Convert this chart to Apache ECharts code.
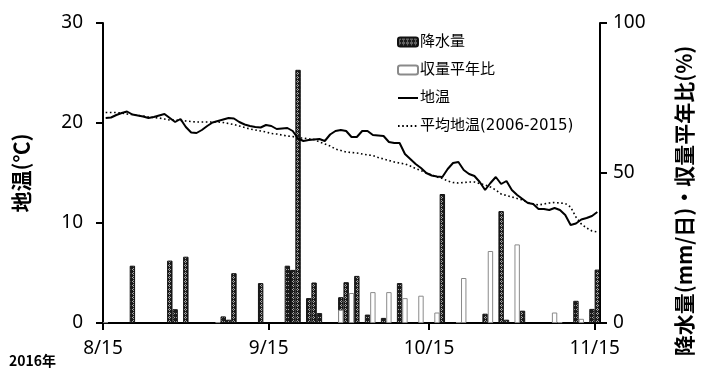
<!DOCTYPE html>
<html>
<head>
<meta charset="utf-8">
<script src="https://cdn.jsdelivr.net/npm/echarts@6/dist/echarts.min.js"></script>
<style>
  html, body { margin: 0; padding: 0; background: #fff; }
  #chart { width: 704px; height: 376px; }
</style>
</head>
<body>
<div id="chart"></div>
<script>
// Daily observation period: 2016/8/15 - 2016/11/15
const startDate = new Date(2016, 7, 15);
const dayCount = 93;
const dates = [];
for (let i = 0; i < dayCount; i++) {
  const d = new Date(startDate.getFullYear(), startDate.getMonth(), startDate.getDate() + i);
  dates.push((d.getMonth() + 1) + '/' + d.getDate());
}

// Tick labels on the date axis
const tickLabels = ['8/15', '9/15', '10/15', '11/15'];

// Precipitation (mm/day)
const rainDates = ['8/20', '8/27', '8/28', '8/30', '9/6', '9/7', '9/8', '9/13', '9/18', '9/19',
  '9/20', '9/22', '9/23', '9/24', '9/28', '9/29', '10/1', '10/3', '10/6', '10/9',
  '10/17', '10/25', '10/28', '10/29', '11/1', '11/11', '11/14', '11/15'];
const rainMm = [19.1, 20.8, 4.6, 22.1, 2.2, 1.1, 16.6, 13.3, 19.1, 17.7,
  84.4, 8.3, 13.5, 3.3, 8.6, 13.6, 15.7, 2.8, 1.7, 13.3,
  43.0, 3.1, 37.3, 1.1, 4.1, 7.4, 4.7, 17.8];

// Yield ratio to normal year (%)
const yieldDates = ['8/15', '9/5', '9/28', '9/30', '10/4', '10/7', '10/10', '10/13', '10/16', '10/20',
  '10/21', '10/26', '10/31', '11/7', '11/8', '11/12'];
const yieldPct = [0.3, 0.3, 4.4, 10.0, 10.3, 10.3, 8.3, 9.1, 3.5, 0.3,
  15.0, 24.0, 26.2, 3.5, 0.3, 1.4];

// Soil temperature (°C), one value per day
const soilTemp = [
  20.5, 20.55, 20.8, 21.0, 21.15, 20.85, 20.75, 20.65, 20.5, 20.6,
  20.75, 20.9, 20.5, 20.1, 20.4, 19.6, 19.05, 19.0, 19.3, 19.7,
  20.05, 20.2, 20.35, 20.5, 20.45, 20.1, 19.85, 19.7, 19.6, 19.55,
  19.8, 19.7, 19.4, 19.45, 19.5, 19.2, 18.45, 18.2, 18.3, 18.35,
  18.4, 18.2, 18.85, 19.2, 19.3, 19.2, 18.6, 18.6, 19.2, 19.2,
  18.8, 18.75, 18.7, 18.1, 18.0, 18.0, 16.9, 16.4, 15.9, 15.5,
  15.0, 14.75, 14.65, 14.6, 15.4, 16.0, 16.1, 15.3, 14.9, 14.7,
  14.1, 13.3, 14.0, 14.6, 13.9, 14.2, 13.3, 12.8, 12.4, 12.0,
  11.9, 11.4, 11.4, 11.3, 11.5, 11.3, 10.8, 9.8, 9.95, 10.35,
  10.5, 10.7, 11.1
];

// Mean soil temperature 2006-2015 (°C), one value per day
const meanSoilTemp = [
  21.05, 21.05, 21.05, 21.0, 20.9, 20.85, 20.75, 20.7, 20.6, 20.55,
  20.5, 20.4, 20.3, 20.3, 20.25, 20.2, 20.15, 20.1, 20.1, 20.1,
  20.1, 20.1, 20.05, 19.95, 19.85, 19.7, 19.55, 19.4, 19.3, 19.2,
  19.1, 18.95, 18.9, 18.8, 18.7, 18.65, 18.5, 18.5, 18.4, 18.35,
  18.1, 17.9, 17.7, 17.4, 17.25, 17.1, 17.05, 17.0, 16.9, 16.8,
  16.75, 16.55, 16.4, 16.25, 16.1, 16.0, 15.9, 15.7, 15.45, 15.25,
  15.0, 14.8, 14.6, 14.45, 14.2, 14.05, 14.0, 14.05, 14.1, 14.1,
  13.95, 13.8, 13.6, 13.3, 12.9, 12.75, 12.6, 12.45, 12.3, 12.05,
  11.9, 11.8, 11.9, 12.0, 12.05, 12.0, 11.95, 11.6, 10.6, 9.9,
  9.5, 9.2, 9.1
];

// Each day occupies one unit band; marks sit in the middle of their day
const dayPos = (label) => dates.indexOf(label) + 0.5;
const tickPos = tickLabels.map(t => dates.indexOf(t));

// Hatched fill for the precipitation bars
function makeHatch() {
  const c = document.createElement('canvas');
  c.width = 4; c.height = 4;
  const ctx = c.getContext('2d');
  ctx.fillStyle = '#1c1c1c';
  ctx.fillRect(0, 0, 4, 4);
  ctx.fillStyle = '#a8a8a8';
  [[1, 0], [0, 1], [2, 1], [1, 2]].forEach(([x, y]) => ctx.fillRect(x, y, 1, 1));
  return c;
}
const hatch = { image: makeHatch(), repeat: 'repeat' };

const numFont = 'Noto Sans';
const jpFont = '"Noto Sans CJK JP", "Noto Sans", sans-serif';
const legendFont = '"DejaVu Sans", "Noto Sans CJK JP", sans-serif';

const chart = echarts.init(document.getElementById('chart'), null, { renderer: 'canvas' });
chart.setOption({
  animation: false,
  backgroundColor: '#fff',
  grid: { left: 103, right: 104, top: 23, bottom: 53, containLabel: false },
  legend: {
    orient: 'vertical',
    left: 392,
    top: 29,
    itemWidth: 20,
    itemHeight: 9,
    itemGap: 12,
    textStyle: { fontFamily: legendFont, fontSize: 15, color: '#000', lineHeight: 16, padding: [0, 0, 0, -3] },
    data: [
      { name: '降水量' },
      { name: '収量平年比' },
      { name: '地温', itemStyle: { opacity: 0 } },
      { name: '平均地温(2006-2015)', itemStyle: { opacity: 0 } }
    ]
  },
  xAxis: {
    type: 'value',
    min: 0,
    max: dayCount,
    splitLine: { show: false },
    axisLine: { show: true, onZero: false, lineStyle: { color: '#000', width: 2 } },
    axisTick: { show: true, customValues: tickPos, length: 7, lineStyle: { color: '#000', width: 2 } },
    axisLabel: {
      customValues: tickPos,
      formatter: (v) => dates[Math.round(v)],
      fontFamily: numFont, fontSize: 19, color: '#000', margin: 16
    }
  },
  yAxis: [
    {
      type: 'value',
      min: 0, max: 30, interval: 10,
      name: '地温(℃)',
      nameLocation: 'middle',
      nameGap: 71,
      nameTextStyle: { fontFamily: jpFont, fontSize: 21, fontWeight: 'bold', color: '#000' },
      splitLine: { show: false },
      axisLine: { show: true, lineStyle: { color: '#000', width: 2 } },
      axisTick: { show: true, length: 7, lineStyle: { color: '#000', width: 2 } },
      axisLabel: { fontFamily: numFont, fontSize: 19, color: '#000', margin: 20 }
    },
    {
      type: 'value',
      position: 'right',
      min: 0, max: 100, interval: 50,
      name: '降水量(mm/日)・収量平年比(%)',
      nameLocation: 'middle',
      nameRotate: 90,
      nameGap: 74,
      nameTextStyle: { fontFamily: jpFont, fontSize: 21, fontWeight: 'bold', color: '#000', padding: [0, 56, 0, 0] },
      splitLine: { show: false },
      axisLine: { show: true, lineStyle: { color: '#000', width: 2 } },
      axisTick: { show: true, length: 7, lineStyle: { color: '#000', width: 2 } },
      axisLabel: { fontFamily: numFont, fontSize: 19, color: '#000', margin: 13 }
    }
  ],
  graphic: [
    {
      type: 'text',
      left: 9,
      top: 354,
      style: { text: '2016年', font: 'bold 14px "Noto Sans CJK JP"', fill: '#000' }
    }
  ],
  series: [
    {
      name: '降水量',
      type: 'bar',
      yAxisIndex: 1,
      barWidth: 5.4,
      barGap: '-100%',
      itemStyle: { color: hatch, borderColor: '#111', borderWidth: 1 },
      data: rainDates.map((d, i) => [dayPos(d), rainMm[i]])
    },
    {
      name: '収量平年比',
      type: 'bar',
      yAxisIndex: 1,
      barWidth: 5.4,
      barGap: '-100%',
      itemStyle: { color: '#fff', borderColor: '#8a8a8a', borderWidth: 1 },
      data: yieldDates.map((d, i) => [dayPos(d), yieldPct[i]])
    },
    {
      name: '地温',
      type: 'line',
      yAxisIndex: 0,
      showSymbol: false,
      symbol: 'none',
      lineStyle: { color: '#000', width: 2 },
      itemStyle: { color: '#000' },
      data: soilTemp.map((v, i) => [i + 0.5, v])
    },
    {
      name: '平均地温(2006-2015)',
      type: 'line',
      yAxisIndex: 0,
      showSymbol: false,
      symbol: 'none',
      lineStyle: { color: '#000', width: 1.6, type: [1.6, 2.6] },
      itemStyle: { color: '#000' },
      data: meanSoilTemp.map((v, i) => [i + 0.5, v])
    }
  ]
});
</script>
</body>
</html>
